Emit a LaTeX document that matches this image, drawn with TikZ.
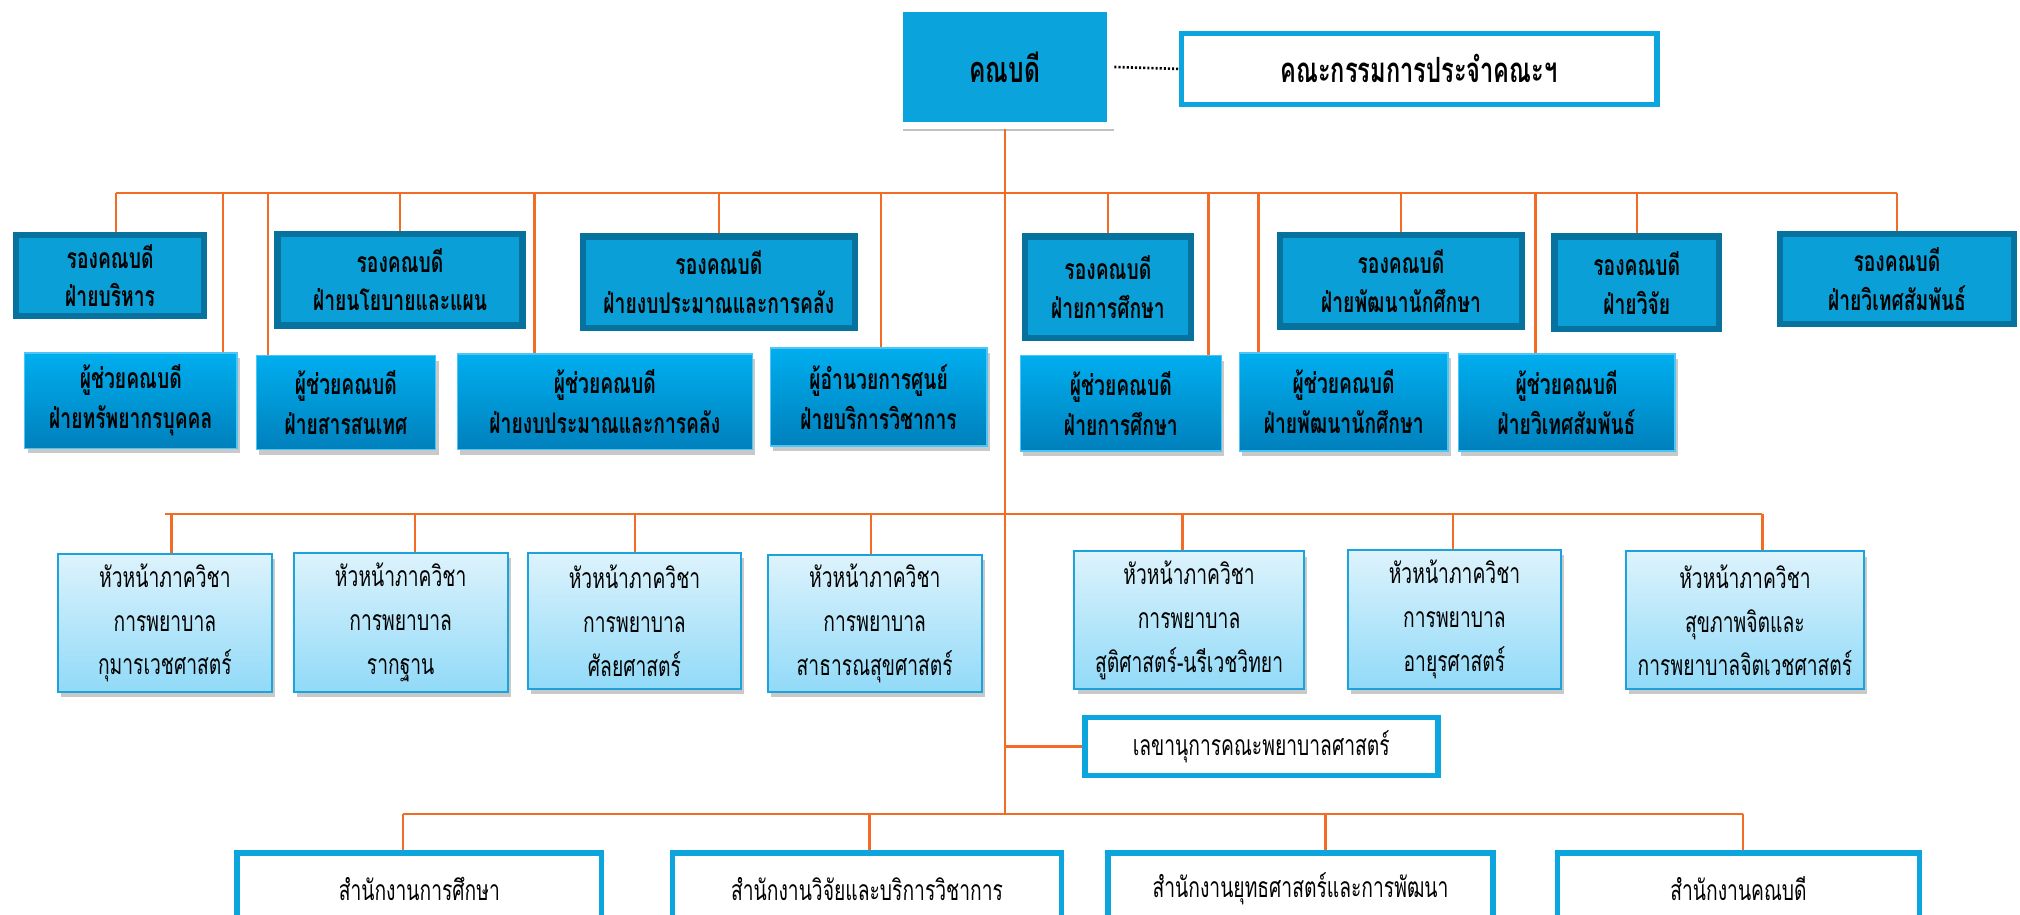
\documentclass[tikz,border=0pt]{standalone}
\usepackage{fontspec}
\usepackage{tikz}
\newfontfamily\thaifont[Script=Thai, FakeStretch=0.68]{Loma}
\usetikzlibrary{positioning}
\usetikzlibrary{shadows}

\definecolor{orgline}{RGB}{242,108,38}
\definecolor{deanblue}{RGB}{11,163,219}
\definecolor{vicefill}{RGB}{10,160,215}
\definecolor{viceedge}{RGB}{8,114,158}
\definecolor{asstop}{RGB}{0,174,239}
\definecolor{assbot}{RGB}{0,128,188}
\definecolor{headtop}{RGB}{221,243,252}
\definecolor{headbot}{RGB}{145,218,248}
\definecolor{headedge}{RGB}{28,163,220}
\definecolor{officeedge}{RGB}{12,165,222}

\tikzset{
  boxsize/.style 2 args={minimum width=#1*0.5pt, minimum height=#2*0.5pt, inner sep=0pt},
  softshadow/.style={drop shadow={shadow xshift=1.2pt, shadow yshift=-2pt, opacity=0.3, fill=black!70}},
  branch/.style={draw=orgline, line width=0.9pt},
  dean/.style={draw=white, line width=3pt, fill=deanblue, drop shadow={shadow xshift=1.5pt, shadow yshift=-2pt, opacity=0.35, fill=black!70}, font=\fontsize{14}{16}\selectfont\thaifont\bfseries},
  vice/.style={draw=viceedge, line width=2.5pt, fill=vicefill, align=center, font=\fontsize{11}{15}\selectfont\thaifont\bfseries},
  assist/.style={draw=asstop!70!white, line width=0.6pt, top color=asstop, bottom color=assbot, softshadow, align=center, font=\fontsize{11}{15.5}\selectfont\thaifont\bfseries},
  head/.style={draw=headedge, line width=0.8pt, top color=headtop, bottom color=headbot, softshadow, align=center, font=\fontsize{11}{17}\selectfont\thaifont},
  office/.style={draw=officeedge, line width=2.2pt, fill=white, align=center, font=\fontsize{11}{13}\selectfont\thaifont},
}

\begin{document}
\begin{tikzpicture}[x=0.5pt, y=-0.5pt]
  \useasboundingbox (0, 0) rectangle (1568, 710);

  \node [dean, boxsize={164}{91}] (dean) at (780, 52) {คณบดี};
  \node [office, boxsize={369}{55}, font=\fontsize{13.5}{15}\selectfont\thaifont\bfseries] (comm) at (1101.5, 53.5) {คณะกรรมการประจำคณะฯ};
  \draw [line width=1pt, dash pattern=on 0.8pt off 0.8pt] (dean.east) -- (comm.west);

  % vice deans
  \node [vice, boxsize={146}{63}] (a1) at (85.5, 214) {รองคณบดี\\ฝ่ายบริหาร};
  \node [vice, boxsize={190}{71}] (a2) at (310.5, 217) {รองคณบดี\\ฝ่ายนโยบายและแผน};
  \node [vice, boxsize={211}{71}] (a3) at (558, 219) {รองคณบดี\\ฝ่ายงบประมาณและการคลัง};
  \node [vice, boxsize={129}{79}] (a4) at (860, 223) {รองคณบดี\\ฝ่ายการศึกษา};
  \node [vice, boxsize={188}{71}] (a5) at (1087.5, 218) {รองคณบดี\\ฝ่ายพัฒนานักศึกษา};
  \node [vice, boxsize={128}{72}] (a6) at (1270.5, 219.5) {รองคณบดี\\ฝ่ายวิจัย};
  \node [vice, boxsize={182}{70}] (a7) at (1472.5, 216.5) {รองคณบดี\\ฝ่ายวิเทศสัมพันธ์};

  % assistant deans
  \node [assist, boxsize={165}{74}] (p1) at (101.5, 311) {ผู้ช่วยคณบดี\\ฝ่ายทรัพยากรบุคคล};
  \node [assist, boxsize={139}{73}] (p2) at (268.5, 312.5) {ผู้ช่วยคณบดี\\ฝ่ายสารสนเทศ};
  \node [assist, boxsize={229}{74}] (p3) at (469.5, 312) {ผู้ช่วยคณบดี\\ฝ่ายงบประมาณและการคลัง};
  \node [assist, boxsize={168}{76}] (p4) at (682, 308) {ผู้อำนวยการศูนย์\\ฝ่ายบริการวิชาการ};
  \node [assist, boxsize={156}{74}] (p5) at (870, 313) {ผู้ช่วยคณบดี\\ฝ่ายการศึกษา};
  \node [assist, boxsize={162}{76}] (p6) at (1043, 312) {ผู้ช่วยคณบดี\\ฝ่ายพัฒนานักศึกษา};
  \node [assist, boxsize={168}{75}] (p7) at (1216, 312.5) {ผู้ช่วยคณบดี\\ฝ่ายวิเทศสัมพันธ์};

  % department heads
  \node [head, boxsize={166}{107}] (h1) at (128, 483.5) {หัวหน้าภาควิชา\\การพยาบาล\\กุมารเวชศาสตร์};
  \node [head, boxsize={166}{108}] (h2) at (311, 483) {หัวหน้าภาควิชา\\การพยาบาล\\รากฐาน};
  \node [head, boxsize={165}{106}] (h3) at (492.5, 482) {หัวหน้าภาควิชา\\การพยาบาล\\ศัลยศาสตร์};
  \node [head, boxsize={166}{106}] (h4) at (679, 484) {หัวหน้าภาควิชา\\การพยาบาล\\สาธารณสุขศาสตร์};
  \node [head, boxsize={178}{107}] (h5) at (923, 481.5) {หัวหน้าภาควิชา\\การพยาบาล\\สูติศาสตร์-นรีเวชวิทยา};
  \node [head, boxsize={166}{108}] (h6) at (1129, 481) {หัวหน้าภาควิชา\\การพยาบาล\\อายุรศาสตร์};
  \node [head, boxsize={185}{107}] (h7) at (1354.5, 481.5) {หัวหน้าภาควิชา\\สุขภาพจิตและ\\การพยาบาลจิตเวชศาสตร์};

  % secretary and offices
  \node [office, boxsize={274}{45}] (sec) at (979, 579.5) {เลขานุการคณะพยาบาลศาสตร์};
  \node [office, boxsize={283}{56}] (b1) at (325.5, 690) {สำนักงานการศึกษา};
  \node [office, boxsize={302}{56}] (b2) at (673, 690) {สำนักงานวิจัยและบริการวิชาการ};
  \node [office, boxsize={299}{56}] (b3) at (1009.5, 690) {สำนักงานยุทธศาสตร์และการพัฒนา};
  \node [office, boxsize={281}{56}] (b4) at (1349.5, 690) {สำนักงานคณบดี};

  % connectors
  \coordinate (bus1) at (780, 150);
  \coordinate (bus3) at (780, 399);
  \coordinate (bus4) at (780, 632);
  \draw [branch] (dean.south) -- (bus4);
  \draw [branch] (90, 0 |- bus1) -- (a7.north |- bus1);
  \draw [branch] (h1.north |- bus3) -- (1368, 0 |- bus3);
  \draw [branch] (313, 0 |- bus4) -- (1353, 0 |- bus4);
  \draw [branch] (sec.west -| bus4) -- (sec.west);
  \foreach \n in {a2, a3, a4, a5, a6, a7}
    \draw [branch] (\n.north |- bus1) -- (\n.north);
  \draw [branch] (90, 0 |- bus1) -- (90, 0 |- a1.north);
  \foreach \n/\s in {p1/173, p2/208, p3/415, p4/684, p5/938, p6/977, p7/1192}
    \draw [branch] (\s, 0 |- bus1) -- (\s, 0 |- \n.north);
  \foreach \n/\s in {h1/133, h2/322, h3/493, h4/676, h5/918, h6/1128, h7/1368}
    \draw [branch] (\s, 0 |- bus3) -- (\s, 0 |- \n.north);
  \foreach \n/\s in {b1/313, b2/675, b3/1029, b4/1353}
    \draw [branch] (\s, 0 |- bus4) -- (\s, 0 |- \n.north);
\end{tikzpicture}
\end{document}
